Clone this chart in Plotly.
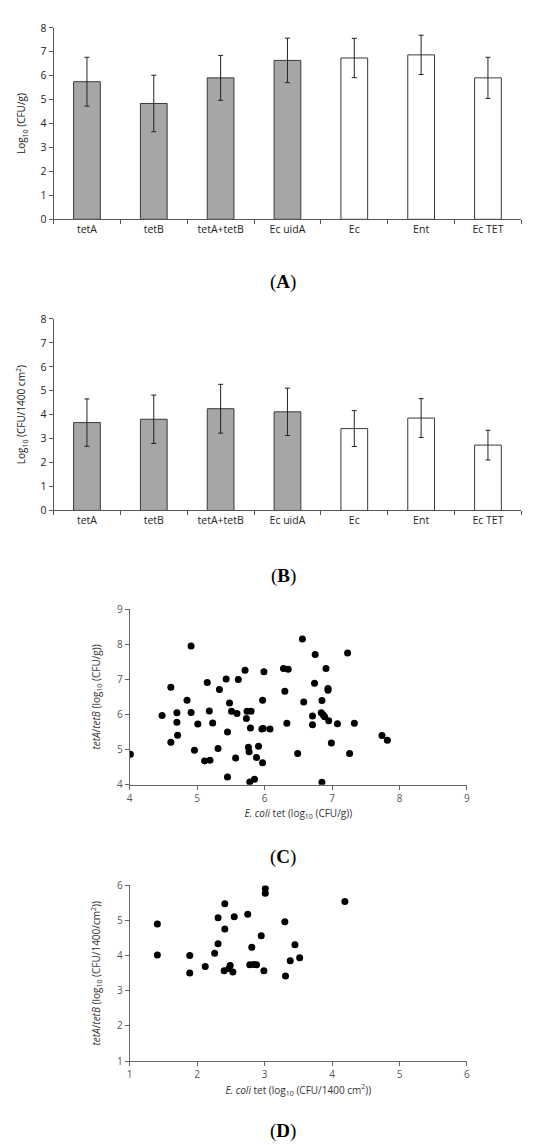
import plotly.graph_objects as go

W, H = 550, 1145

categories = ['tetA', 'tetB', 'tetA+tetB', 'Ec uidA', 'Ec', 'Ent', 'Ec TET']
soil_values = [5.75, 4.84, 5.91, 6.64, 6.74, 6.87, 5.91]
soil_errors = [1.02, 1.18, 0.94, 0.93, 0.82, 0.82, 0.86]
swab_values = [3.67, 3.81, 4.25, 4.12, 3.42, 3.86, 2.73]
swab_errors = [0.99, 1.01, 1.02, 0.99, 0.75, 0.81, 0.62]
bar_fills = ['#a6a6a6', '#a6a6a6', '#a6a6a6', '#a6a6a6', 'white', 'white', 'white']

soil_ecoli = [4.01, 4.48, 4.61, 4.61, 4.70, 4.70, 4.71, 4.85, 4.91, 4.91, 4.96, 5.01,
              5.11, 5.19, 5.15, 5.18, 5.23, 5.31, 5.33, 5.43, 5.45, 5.45, 5.48, 5.51,
              5.57, 5.59, 5.61, 5.71, 5.73, 5.74, 5.76, 5.77, 5.78, 5.80, 5.79, 5.85,
              5.88, 5.91, 5.96, 5.97, 5.97, 5.98, 5.99, 6.08,
              6.56, 6.75, 7.23, 6.28, 6.35, 6.91, 6.74, 6.30, 6.94, 6.94, 6.58, 6.85,
              6.84, 6.87, 6.89, 6.71, 6.71, 6.95, 7.08, 7.33, 6.33, 7.74, 7.82, 6.99,
              6.49, 7.26, 6.85]
soil_tet = [4.87, 5.97, 6.78, 5.21, 6.05, 5.78, 5.41, 6.41, 7.95, 6.06, 4.98, 5.73,
            4.68, 4.70, 6.91, 6.10, 5.76, 5.03, 6.71, 7.01, 5.50, 4.22, 6.33, 6.09,
            4.76, 6.03, 7.00, 7.26, 5.89, 6.09, 5.07, 4.94, 4.08, 6.09, 5.62, 4.16,
            4.78, 5.10, 5.59, 4.63, 6.41, 5.60, 7.22, 5.59,
            8.15, 7.71, 7.75, 7.31, 7.29, 7.31, 6.89, 6.66, 6.74, 6.69, 6.36, 6.40,
            6.05, 5.99, 5.94, 5.96, 5.71, 5.82, 5.74, 5.75, 5.75, 5.40, 5.27, 5.19,
            4.89, 4.89, 4.07]

swab_ecoli = [1.41, 1.41, 1.89, 1.89, 2.12, 2.26, 2.31, 2.31, 2.41, 2.41, 2.40, 2.49,
              2.47, 2.53, 2.55, 2.75, 2.78, 2.81, 2.84, 2.88, 2.95, 3.01, 3.01, 2.99,
              3.30, 3.31, 3.38, 3.45, 3.52, 4.19]
swab_tet = [4.90, 4.02, 4.01, 3.51, 3.69, 4.07, 4.34, 5.08, 5.48, 4.76, 3.57, 3.72,
            3.64, 3.54, 5.11, 5.18, 3.74, 4.24, 3.75, 3.74, 4.57, 5.91, 5.78, 3.57,
            4.97, 3.42, 3.86, 4.31, 3.94, 5.54]


def dom_x(a, b):
    return [a / W, b / W]


def dom_y(bottom, top):
    return [1 - bottom / H, 1 - top / H]


fig = go.Figure()

for vals, errs, ax in [(soil_values, soil_errors, ''), (swab_values, swab_errors, '2')]:
    fig.add_trace(go.Bar(x=categories, y=vals, marker_color=bar_fills,
                         marker_line_color='#3a3a3a', marker_line_width=1,
                         error_y=dict(type='data', array=errs, color='#222222',
                                      thickness=1, width=2.5),
                         xaxis='x' + ax, yaxis='y' + ax, showlegend=False))

fig.add_trace(go.Scatter(x=soil_ecoli, y=soil_tet, mode='markers',
                         marker=dict(color='black', size=7), xaxis='x3', yaxis='y3',
                         showlegend=False))
fig.add_trace(go.Scatter(x=swab_ecoli, y=swab_tet, mode='markers',
                         marker=dict(color='black', size=7), xaxis='x4', yaxis='y4',
                         showlegend=False))

font = 'Open Sans'
bar_x = dict(type='category', range=[-0.5, 6.5], showline=True, linecolor='#555555',
             linewidth=1, ticks='outside', tickson='boundaries', ticklen=4,
             tickcolor='#555555', tickfont=dict(size=10.5, color='#222222'),
             showgrid=False, zeroline=False)
bar_y = dict(range=[0, 8], dtick=1, showline=True, linecolor='#555555', linewidth=1,
             ticks='outside', ticklen=4, tickcolor='#555555',
             tickfont=dict(size=10.5, color='#222222'), showgrid=False, zeroline=False)
sc_axis = dict(dtick=1, showline=True, linecolor='#666666', linewidth=1,
               ticks='outside', ticklen=4, tickcolor='#666666',
               tickfont=dict(size=10, color='#555555'), showgrid=False, zeroline=False)

fig.update_layout(
    width=W, height=H, autosize=False, plot_bgcolor='white', paper_bgcolor='white',
    margin=dict(l=0, r=0, t=0, b=0), bargap=0.6, font=dict(family=font, color='#222222'),
    xaxis=dict(bar_x, domain=dom_x(43, 516), anchor='y'),
    yaxis=dict(bar_y, domain=dom_y(206, 12), anchor='x',
               title=dict(text='Log<sub>10</sub> (CFU/g)', font=dict(size=10), standoff=12)),
    xaxis2=dict(bar_x, domain=dom_x(43, 516), anchor='y2'),
    yaxis2=dict(bar_y, domain=dom_y(501, 307), anchor='x2',
                title=dict(text='Log<sub>10</sub> (CFU/1400 cm<sup>2</sup>)',
                           font=dict(size=10), standoff=12)),
    xaxis3=dict(sc_axis, range=[4, 9], domain=dom_x(120, 461), anchor='y3',
                title=dict(text='<i>E. coli</i> tet (log<sub>10</sub> (CFU/g))',
                           font=dict(size=10, color='#333333'), standoff=6)),
    yaxis3=dict(sc_axis, range=[4, 9], domain=dom_y(779, 601), anchor='x3',
                title=dict(text='<i>tetA</i>/<i>tetB</i> (log<sub>10</sub> (CFU/g))',
                           font=dict(size=10, color='#333333'), standoff=14)),
    xaxis4=dict(sc_axis, range=[1, 6], domain=dom_x(120, 461), anchor='y4',
                title=dict(text='<i>E. coli</i> tet (log<sub>10</sub> (CFU/1400 cm<sup>2</sup>))',
                           font=dict(size=10, color='#333333'), standoff=6)),
    yaxis4=dict(sc_axis, range=[1, 6], domain=dom_y(1059, 881), anchor='x4',
                title=dict(text='<i>tetA</i>/<i>tetB</i> (log<sub>10</sub> (CFU/1400/cm<sup>2</sup>))',
                           font=dict(size=10, color='#333333'), standoff=14)),
)

for label, py in [('(<b>A</b>)', 270), ('(<b>B</b>)', 567), ('(<b>C</b>)', 852), ('(<b>D</b>)', 1130)]:
    fig.add_annotation(text=label, x=0.5, y=1 - py / H, xref='paper', yref='paper',
                       showarrow=False, xanchor='center', yanchor='middle',
                       font=dict(family='Liberation Serif', size=19, color='black'))

fig.write_html('out.html')
